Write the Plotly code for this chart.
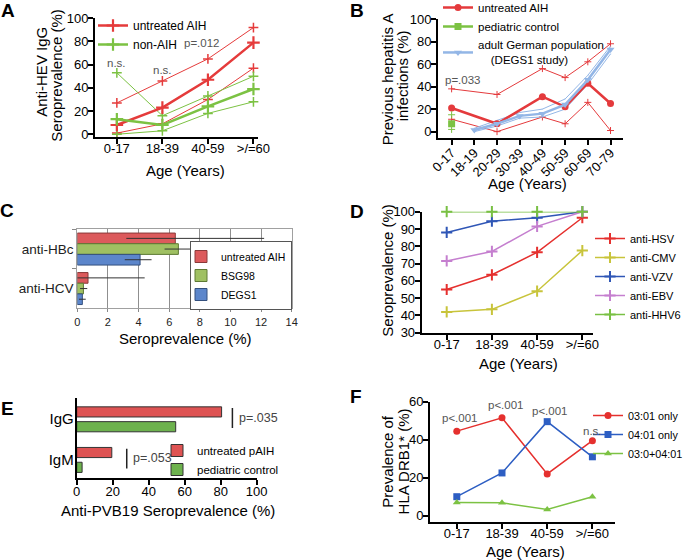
import plotly.graph_objects as go

W, H = 685, 560
FONT = "Liberation Sans, Arial, Helvetica, sans-serif"

# ---------------- data ----------------
age4 = ["0-17", "18-39", "40-59", ">/=60"]

# A: anti-HEV IgG seroprevalence (%) with CI
hev_aih = [8, 23, 47, 79]
hev_aih_hi = [27, 46, 65, 92]
hev_aih_lo = [1, 9, 30, 57]
hev_non = [13, 8, 24, 39]
hev_non_hi = [53, 16, 33, 50]
hev_non_lo = [0, 3, 18, 28]
a_pvals = ["n.s.", "n.s.", "p=.012", "p<.001"]

# B: previous hepatitis A infections (%)
age_b = ["0-17", "18-19", "20-29", "30-39", "40-49", "50-59", "60-69", "70-79"]
hav_aih = [21, None, 7, None, 31, 22, 43, 25]
hav_aih_hi = [38, None, 33, None, 56, 48, 62, 78]
hav_aih_lo = [11, None, 0, None, 13, 7, 26, 1]
hav_ped = [7]
hav_ped_hi = [15]
hav_ped_lo = [2]
hav_degs = [None, 1.5, 7, 14, 16, 24, 46, 73]
hav_degs_hi = [None, 3, 10, 17, 20, 29, 50, 76]
hav_degs_lo = [None, 0, 5, 12, 13, 20, 42, 69]

# C: anti-HBc / anti-HCV seroprevalence (%)
c_cats = ["anti-HBc", "anti-HCV"]
c_aih = [6.4, 0.7]
c_aih_lo = [3.2, 0.0]
c_aih_hi = [12.2, 4.4]
c_bsg = [6.6, 0.4]
c_bsg_lo = [5.7, 0.18]
c_bsg_hi = [8.2, 0.65]
c_degs = [4.1, 0.33]
c_degs_lo = [3.1, 0.11]
c_degs_hi = [4.85, 0.55]

# D: herpes virus seroprevalence (%)
d_hsv = [55, 63.5, 76.5, 96.5]
d_cmv = [42, 43.5, 54, 77.5]
d_vzv = [88, 94.5, 96.5, 100]
d_ebv = [71.5, 77, 91.5, 100]
d_hhv6 = [100, 100, 100, 100]

# E: anti-PVB19 seroprevalence (%)
e_cats = ["IgG", "IgM"]
e_aih = [80.5, 19.5]
e_ped = [55, 3]
e_sig_x = [86.5, 27.8]
e_pvals = ["p=.035", "p=.053"]

# F: HLA DRB1* prevalence (%)
f_0301 = [44.5, 51.5, 22, 39.5]
f_0401 = [10, 22.5, 49.5, 31]
f_both = [7, 6.8, 3.3, 10]
f_pvals = ["p<.001", "p<.001", "p<.001", "n.s."]

# ---------------- helpers ----------------
def fx(p):
    return p / W

def fy(p):
    return 1 - p / H

RED = "#e53b3b"
GREEN = "#7cc243"
fig = go.Figure()

def line(x, y, color, width, sym, size, name=None, legend=None, xa="x", ya="y", mlw=1.5, show=False, fill_marker=False):
    if fill_marker:
        marker = dict(symbol=sym, size=size, color=color, line=dict(width=0, color=color))
    else:
        marker = dict(symbol=sym, size=size, color=color, line=dict(width=mlw, color=color))
    fig.add_trace(go.Scatter(
        x=x, y=y, mode="lines+markers", name=name, showlegend=show,
        legend=legend, xaxis=xa, yaxis=ya, connectgaps=True, cliponaxis=False,
        line=dict(color=color, width=width), marker=marker))

# ---- A ----
line(age4, hev_aih_hi, RED, 1, "cross-thin", 7)
line(age4, hev_aih_lo, RED, 1, "cross-thin", 7)
line(age4, hev_non_hi, GREEN, 1, "cross-thin", 7)
line(age4, hev_non_lo, GREEN, 1, "cross-thin", 7)
line(age4, hev_aih, RED, 2.5, "cross-thin", 9, name="untreated AIH", legend="legend", mlw=2.2, show=True)
line(age4, hev_non, GREEN, 2.5, "cross-thin", 9, name="non-AIH", legend="legend", mlw=2.2, show=True)

# ---- B ----
BRED = "#e43a3c"
BBLUE = "#93b6e6"
line(age_b, hav_aih_hi, BRED, 1, "cross-thin", 5, xa="x2", ya="y2", mlw=1)
line(age_b, hav_aih_lo, BRED, 1, "cross-thin", 5, xa="x2", ya="y2", mlw=1)
line(age_b, hav_degs_hi, BBLUE, 1, "line-ew", 1, xa="x2", ya="y2", mlw=0.5)
line(age_b, hav_degs_lo, BBLUE, 1, "line-ew", 1, xa="x2", ya="y2", mlw=0.5)
line(age_b, hav_aih, BRED, 2.5, "circle", 7, name="untreated AIH", legend="legend2", xa="x2", ya="y2", show=True, fill_marker=True)
fig.add_trace(go.Scatter(x=[age_b[0]] * 2, y=[hav_ped_hi[0], hav_ped_lo[0]], mode="markers",
                         showlegend=False, xaxis="x2", yaxis="y2", cliponaxis=False,
                         marker=dict(symbol="cross-thin", size=5, line=dict(width=1, color=GREEN))))
fig.add_trace(go.Scatter(x=[age_b[0]], y=hav_ped, mode="lines+markers", name="pediatric control",
                         legend="legend2", xaxis="x2", yaxis="y2", cliponaxis=False,
                         line=dict(color=GREEN, width=2.5),
                         marker=dict(symbol="square", size=7, color=GREEN)))
line(age_b, hav_degs, BBLUE, 2.5, "triangle-down", 7, name="adult German population<br>\u00a0\u00a0\u00a0\u00a0(DEGS1 study)",
     legend="legend2", xa="x2", ya="y2", show=True, fill_marker=True)

# ---- C ----
def cbar(vals, lo, hi, color, edge, name, off):
    fig.add_trace(go.Bar(
        y=c_cats, x=vals, orientation="h", name=name, legend="legend3",
        xaxis="x3", yaxis="y3", offset=off, width=0.27,
        marker=dict(color=color, line=dict(color=edge, width=1)),
        error_x=dict(type="data", symmetric=False,
                     array=[h - v for h, v in zip(hi, vals)],
                     arrayminus=[v - l for v, l in zip(vals, lo)],
                     color="#333333", thickness=1, width=0)))

cbar(c_aih, c_aih_lo, c_aih_hi, "#dc5a5c", "#8a3a3a", "untreated AIH", -0.405)
cbar(c_bsg, c_bsg_lo, c_bsg_hi, "#9fc062", "#5e7a34", "BSG98", -0.135)
cbar(c_degs, c_degs_lo, c_degs_hi, "#5c86cb", "#34507e", "DEGS1", 0.135)

# ---- D ----
d_series = [("anti-HSV", d_hsv, "#e5302e"), ("anti-CMV", d_cmv, "#c8c43b"),
            ("anti-VZV", d_vzv, "#2f56b6"), ("anti-EBV", d_ebv, "#c57fcf"),
            ("anti-HHV6", d_hhv6, "#79c044")]
for nm, vals, col in d_series:
    line(age4, vals, col, 1.5, "cross-thin", 8, name=nm, legend="legend4", xa="x4", ya="y4", mlw=2, show=True)

# ---- E ----
fig.add_trace(go.Bar(y=e_cats, x=e_aih, orientation="h", name="untreated pAIH", legend="legend5",
                     xaxis="x5", yaxis="y5", offset=-0.30, width=0.25,
                     marker=dict(color="#de5353", line=dict(color="#333333", width=1))))
fig.add_trace(go.Bar(y=e_cats, x=e_ped, orientation="h", name="pediatric control", legend="legend5",
                     xaxis="x5", yaxis="y5", offset=0.065, width=0.25,
                     marker=dict(color="#6db24e", line=dict(color="#333333", width=1))))

# ---- F ----
line(age4, f_0301, "#e5302e", 1.5, "circle", 7, name="03:01 only", legend="legend6", xa="x6", ya="y6", show=True, fill_marker=True)
line(age4, f_0401, "#2d5ec3", 1.5, "square", 7, name="04:01 only", legend="legend6", xa="x6", ya="y6", show=True, fill_marker=True)
line(age4, f_both, "#7cc243", 1.5, "triangle-up", 7, name="03:0+04:01", legend="legend6", xa="x6", ya="y6", show=True, fill_marker=True)

# ---------------- axes ----------------
def prism(dom, anchor, **kw):
    d = dict(domain=dom, anchor=anchor, showline=True, linecolor="black", linewidth=2,
             ticks="outside", ticklen=5, tickwidth=2, tickcolor="black", showgrid=False,
             zeroline=False, tickfont=dict(family=FONT, size=13, color="black"))
    d.update(kw)
    return d

def xprism(dom, anchor, **kw):
    kw.setdefault("ticklabelstandoff", -6)
    return prism(dom, anchor, **kw)

def yprism(dom, anchor, **kw):
    kw.setdefault("ticklabelstandoff", -3)
    return prism(dom, anchor, **kw)

def catax(dom, anchor, cats, rng, **kw):
    return xprism(dom, anchor, type="category", categoryorder="array", categoryarray=cats,
                  range=rng, **kw)

lay = dict(
    width=W, height=H, autosize=False,
    margin=dict(l=0, r=0, t=0, b=0, pad=0, autoexpand=False),
    paper_bgcolor="white", plot_bgcolor="white", barmode="group",
    font=dict(family=FONT, color="black"),
    # A
    xaxis=catax([fx(95), fx(258)], "y", age4, [-0.48, 3.1]),
    yaxis=yprism([fy(136.7), fy(18.3)], "x", range=[-2.1, 100], tickvals=[0, 20, 40, 60, 80, 100]),
    # B
    xaxis2=catax([fx(438), fx(623)], "y2", age_b, [-0.6, 7.55], tickangle=-45,
                 ticklabelstandoff=-5),
    yaxis2=yprism([fy(138.3), fy(19)], "x2", range=[-5.9, 100], tickvals=[0, 20, 40, 60, 80, 100]),
    # C
    xaxis3=dict(domain=[fx(77.3), fx(291.7)], anchor="y3", range=[0, 14], dtick=2,
                showline=True, mirror=True, linecolor="#a0a0a0", linewidth=1,
                showgrid=True, gridcolor="#8f8f8f", gridwidth=1, zeroline=False,
                ticks="outside", ticklen=3, tickcolor="#888888",
                tickfont=dict(family=FONT, size=11, color="#222222")),
    yaxis3=dict(domain=[fy(308.3), fy(229.3)], anchor="x3", type="category",
                categoryorder="array", categoryarray=c_cats, range=[1.5, -0.5],
                showline=True, mirror=True, linecolor="#a0a0a0", linewidth=1,
                tickson="boundaries", ticks="outside", ticklen=4, tickcolor="#888888",
                showgrid=False, zeroline=False,
                tickfont=dict(family=FONT, size=13.5, color="#222222")),
    # D
    xaxis4=catax([fx(421.7), fx(593.3)], "y4", age4, [-0.553, 3.243]),
    yaxis4=yprism([fy(332.7), fy(211.7)], "x4", range=[30, 100], dtick=10),
    # E
    xaxis5=xprism([fx(76.7), fx(256.7)], "y5", range=[0, 100], dtick=20, ticklabelstandoff=-5),
    yaxis5=prism([fy(478.3), fy(398.3)], "x5", type="category", categoryorder="array",
                 categoryarray=e_cats, range=[1.46, -0.51], ticks="", ticklabelstandoff=-2,
                 tickfont=dict(family=FONT, size=15, color="black")),
    # F
    xaxis6=catax([fx(430), fx(615)], "y6", age4, [-0.593, 3.5]),
    yaxis6=yprism([fy(521.7), fy(401.7)], "x6", range=[-3.16, 60], tickvals=[0, 20, 40, 60]),
)

def leg(xp, ytop, size, **kw):
    d = dict(x=fx(xp), y=fy(ytop), xanchor="left", yanchor="top", bgcolor="rgba(0,0,0,0)",
             borderwidth=0, font=dict(family=FONT, size=size, color="black"),
             itemwidth=30, tracegroupgap=0, orientation="v")
    d.update(kw)
    return d

lay["legend"] = leg(93, 11, 12)
lay["legend2"] = leg(438, -7, 11.5)
lay["legend3"] = leg(190, 241, 10.5, bgcolor="white", bordercolor="#555555", borderwidth=1,
                     indentation=-10)
lay["legend4"] = leg(590, 224, 11)
lay["legend5"] = leg(157, 436, 11.5)
lay["legend6"] = leg(588, 401, 10.8)

fig.update_layout(**lay)

# ---------------- annotations ----------------
ann = []

def txt(text, x, y, xref="paper", yref="paper", size=13, color="black", angle=0, bold=False,
        xanchor="center", yanchor="middle"):
    ann.append(dict(text=("<b>%s</b>" % text) if bold else text, x=x, y=y, xref=xref, yref=yref,
                    showarrow=False, textangle=angle, xanchor=xanchor, yanchor=yanchor,
                    font=dict(family=FONT, size=size, color=color)))

# panel letters
for lab, px_, py_ in [("A", 7.5, 10), ("B", 357, 10), ("C", 7, 210),
                      ("D", 357, 211.5), ("E", 7, 408), ("F", 356, 396)]:
    txt(lab, fx(px_), fy(py_), size=19, bold=True)

# axis titles (each line placed on its own)
for t, px_, py_, ang in [
        ("Anti-HEV IgG", 40.8, 72, -90), ("Seroprevalence (%)", 56.7, 75, -90),
        ("Age (Years)", 185, 170, 0),
        ("Previous hepatitis A", 388.3, 79, -90), ("infections (%)", 403.3, 76, -90),
        ("Age (Years)", 527, 184, 0),
        ("Seroprevalence (%)", 185, 338, 0),
        ("Seroprevalence (%)", 386.7, 270, -90),
        ("Age (Years)", 518, 363, 0),
        ("Anti-PVB19 Seroprevalence (%)", 167.5, 510, 0),
        ("Prevalence of", 386.7, 461, -90), ("HLA DRB1* (%)", 403.7, 461.7, -90),
        ("Age (Years)", 525, 551.7, 0)]:
    txt(t, fx(px_), fy(py_), size=15, angle=ang)

# p-values A
for xi, yv, t in zip([0, 1, 1.87, 2.88], [61.5, 55.5, 78.7, 103.7], a_pvals):
    txt(t, xi, yv, xref="x", yref="y", size=11.5, color="#555555")
# p-value B
txt("p=.033", 0.5, 45.9, xref="x2", yref="y2", size=11.5, color="#555555")
# p-values F
for xi, yv, t in zip([0.06, 1.08, 2.07, 3.0], [51.6, 58.3, 55.3, 44.6], f_pvals):
    txt(t, xi, yv, xref="x6", yref="y6", size=11.5, color="#555555")
# p-values E
for i, (sx, t) in enumerate(zip(e_sig_x, e_pvals)):
    txt(t, sx + 2.5, i - 0.03, xref="x5", yref="y5", size=12.5, color="#444444", xanchor="left")
    fig.add_shape(type="line", xref="x5", yref="y5", x0=sx, x1=sx, y0=i - 0.27, y1=i + 0.22,
                  line=dict(color="#222222", width=1.5))

fig.update_layout(annotations=ann)
fig.write_html("out.html", config={"displayModeBar": False},
               post_script="document.body.style.margin='0';")
